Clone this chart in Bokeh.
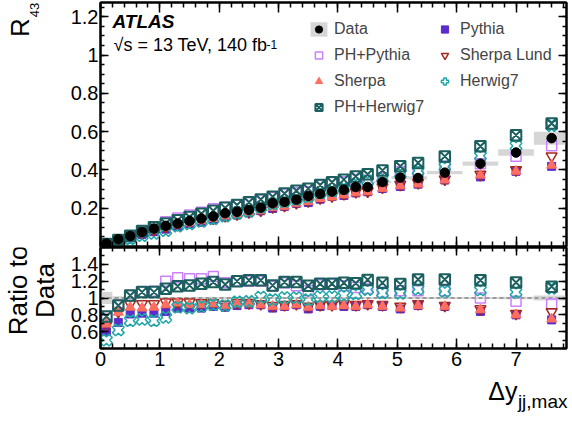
import numpy as np
from bokeh.plotting import figure
from bokeh.models import (Range1d, LinearAxis, FixedTicker, Label, Legend,
                          LegendItem, Span)
from bokeh.layouts import column, row
from bokeh.embed import file_html
from bokeh.resources import INLINE

FONT = "Liberation Sans"

# ---------------- data ----------------
bin_edges = [0.0, 0.2, 0.4, 0.6, 0.8, 1.0, 1.2, 1.4, 1.6, 1.8, 2.0, 2.2, 2.4,
             2.6, 2.8, 3.0, 3.2, 3.4, 3.6, 3.8, 4.0, 4.2, 4.4, 4.6, 4.9, 5.2,
             5.5, 6.1, 6.7, 7.3, 7.9]

data_r43 = [0.016, 0.038, 0.055, 0.076, 0.094, 0.108, 0.120, 0.134, 0.146,
            0.157, 0.174, 0.181, 0.191, 0.203, 0.226, 0.233, 0.245, 0.264,
            0.275, 0.287, 0.296, 0.311, 0.311, 0.337, 0.360, 0.358, 0.386,
            0.433, 0.491, 0.566]

# half-height of the grey data-uncertainty band (upper panel, absolute)
data_unc = [0.002, 0.003, 0.003, 0.004, 0.004, 0.004, 0.004, 0.004, 0.005,
            0.005, 0.005, 0.005, 0.005, 0.005, 0.005, 0.005, 0.005, 0.005,
            0.005, 0.005, 0.006, 0.006, 0.006, 0.007, 0.009, 0.009, 0.009,
            0.011, 0.017, 0.034]

# half-height of the grey band in the ratio panel
ratio_unc = [0.07, 0.02, 0.015, 0.012, 0.012, 0.012, 0.012, 0.012, 0.012,
             0.012, 0.012, 0.012, 0.012, 0.012, 0.012, 0.012, 0.012, 0.012,
             0.012, 0.012, 0.012, 0.012, 0.012, 0.012, 0.012, 0.012, 0.013,
             0.013, 0.015, 0.03]

ratio_pythia = [0.60, 0.71, 0.81, 0.82, 0.82, 0.84, 0.88, 0.88, 0.88, 0.90,
                0.89, 0.91, 0.92, 0.92, 0.88, 0.90, 0.92, 0.87, 0.90, 0.91,
                0.90, 0.90, 0.92, 0.90, 0.87, 0.91, 0.90, 0.84, 0.80, 0.74]

ratio_ph_pythia = [0.78, 0.91, 1.03, 1.07, 1.08, 1.20, 1.24, 1.23, 1.23, 1.255,
                   1.18, 1.20, 1.20, 1.20, 1.14, 1.18, 1.145, 1.086, 1.157,
                   1.165, 1.145, 1.125, 1.114, 1.067, 1.086, 1.086, 1.086,
                   1.00, 0.96, 0.93]

ratio_sherpa_lund = [0.68, 0.84, 0.93, 0.93, 0.93, 0.95, 0.95, 0.95, 0.94,
                     0.94, 0.92, 0.94, 0.94, 0.93, 0.91, 0.92, 0.93, 0.90,
                     0.92, 0.92, 0.93, 0.92, 0.93, 0.92, 0.90, 0.93, 0.91,
                     0.87, 0.815, 0.835]

ratio_sherpa = [0.69, 0.83, 0.89, 0.88, 0.89, 0.92, 0.94, 0.92, 0.92, 0.93,
                0.91, 0.93, 0.93, 0.92, 0.90, 0.90, 0.92, 0.89, 0.91, 0.90,
                0.91, 0.90, 0.92, 0.90, 0.88, 0.91, 0.90, 0.86, 0.80, 0.75]

ratio_herwig7 = [0.50, 0.62, 0.73, 0.745, 0.73, 0.77, 0.89, 0.88, 0.90, 0.92,
                 0.91, 0.955, 0.96, 1.01, 0.98, 1.005, 1.005, 0.98, 1.017,
                 1.017, 1.03, 1.05, 1.10, 1.06, 1.055, 1.105, 1.078, 1.095,
                 1.07, 1.115]

ratio_ph_herwig7 = [0.78, 0.91, 1.03, 1.07, 1.07, 1.11, 1.14, 1.15, 1.17,
                    1.19, 1.16, 1.20, 1.21, 1.21, 1.15, 1.19, 1.19, 1.145,
                    1.17, 1.17, 1.18, 1.175, 1.215, 1.18, 1.165, 1.22, 1.22,
                    1.21, 1.185, 1.135]

x_ticks = [0, 1, 2, 3, 4, 5, 6, 7]
x_minor = [0.2 * i for i in range(40)]
top_ticks = [0.2, 0.4, 0.6, 0.8, 1.0, 1.2]
top_minor = [0.05 * i for i in range(26)]
bot_ticks = [0.6, 0.8, 1.0, 1.2, 1.4]
bot_minor = [0.4 + 0.1 * i for i in range(13)]

# ---------------- derived ----------------
lo = np.array(bin_edges[:-1])
hi = np.array(bin_edges[1:])
xc = 0.5 * (lo + hi)
data = np.array(data_r43)
unc = np.array(data_unc)
runc = np.array(ratio_unc)

C_PYTHIA = "#5a2ccb"
C_PHPY = "#cc80ff"
C_LUND = "#a3291f"
C_SHERPA = "#ff6e60"
C_HW = "#20a6a6"
C_PHHW = "#1b5f5f"
C_BAND = "#d6d6d6"

series = [
    ("PH+Pythia", ratio_ph_pythia, dict(marker="square", size=10, fill_color=None, line_color=C_PHPY, line_width=1.5)),
    ("Pythia", ratio_pythia, dict(marker="square", size=8, fill_color=C_PYTHIA, line_color=C_PYTHIA)),
    ("Sherpa Lund", ratio_sherpa_lund, dict(marker="inverted_triangle", size=11, fill_color=None, line_color=C_LUND, line_width=1.5)),
    ("Sherpa", ratio_sherpa, dict(marker="triangle", size=10, fill_color=C_SHERPA, line_color=C_SHERPA)),
    ("Herwig7", ratio_herwig7, dict(marker="plus", size=12, angle=np.pi / 4, fill_color=None, line_color=C_HW, line_width=1.5)),
    ("PH+Herwig7", ratio_ph_herwig7, dict(marker="square_x", size=10.5, fill_color=None, line_color=C_PHHW, line_width=2)),
]

x_range = Range1d(0, 7.85)

LAB_W = 67     # width of the strip that holds the rotated axis titles
MAIN_W = 501   # width of each panel figure
TOP_H = 247
BOT_H = 127
FOOT_H = 49


def style_axis(ax, ticks, minor, tin, tmin, labels, overrides=None, standoff=2):
    ax.ticker = FixedTicker(ticks=ticks, minor_ticks=minor)
    ax.major_tick_in = tin
    ax.major_tick_out = 0
    ax.minor_tick_in = tmin
    ax.minor_tick_out = 0
    ax.axis_line_width = 2
    ax.axis_line_color = "black"
    ax.major_tick_line_width = 1.5
    ax.minor_tick_line_width = 1.5
    ax.major_tick_line_color = "black"
    ax.minor_tick_line_color = "black"
    if labels:
        ax.major_label_text_font = FONT
        ax.major_label_text_font_size = "20px"
        ax.major_label_text_color = "black"
        ax.major_label_standoff = standoff
        if overrides:
            ax.major_label_overrides = overrides
    else:
        ax.major_label_text_font_size = "1px"
        ax.major_label_text_alpha = 0
        ax.major_label_standoff = 0


def make_fig(yr, h, mbt, mbb):
    p = figure(width=MAIN_W, height=h, x_range=x_range, y_range=yr,
               output_backend="svg", toolbar_location=None,
               min_border_left=32, min_border_right=2, min_border_top=mbt,
               min_border_bottom=mbb)
    p.xgrid.visible = False
    p.ygrid.visible = False
    p.outline_line_color = "black"
    p.outline_line_width = 2
    p.background_fill_color = "white"
    p.border_fill_color = "white"
    return p


def blank(w, h):
    f = figure(width=w, height=h, x_range=Range1d(0, w), y_range=Range1d(0, h),
               output_backend="svg", toolbar_location=None, min_border=0,
               x_axis_location=None, y_axis_location=None)
    f.xgrid.visible = False
    f.ygrid.visible = False
    f.outline_line_color = None
    return f


# ---------------- upper panel ----------------
p1 = make_fig(Range1d(0, 1.275), TOP_H, 2, 1)
style_axis(p1.xaxis[0], x_ticks, x_minor, 10, 5, False)
style_axis(p1.yaxis[0], top_ticks, top_minor, 8, 4, True, {1.0: "1"})
ax_t = LinearAxis()
style_axis(ax_t, x_ticks, x_minor, 10, 5, False)
p1.add_layout(ax_t, "above")
ax_r = LinearAxis()
style_axis(ax_r, top_ticks, top_minor, 8, 4, False)
p1.add_layout(ax_r, "right")

band1 = p1.quad(left=lo, right=hi, bottom=data - unc, top=data + unc,
                fill_color=C_BAND, line_color=None)
rend = {}
for name, r, kw in series:
    rend[name] = p1.scatter(xc, data * np.array(r), **kw)
data_r = p1.scatter(xc, data, marker="circle", size=9.5, fill_color="black",
                    line_color="black")

order = [("Data", [band1, data_r]), ("Pythia", [rend["Pythia"]]),
         ("PH+Pythia", [rend["PH+Pythia"]]), ("Sherpa Lund", [rend["Sherpa Lund"]]),
         ("Sherpa", [rend["Sherpa"]]), ("Herwig7", [rend["Herwig7"]]),
         ("PH+Herwig7", [rend["PH+Herwig7"]])]
legend = Legend(items=[LegendItem(label=n, renderers=r) for n, r in order],
                orientation="horizontal", ncols=2, location=(208, 129),
                border_line_color=None, background_fill_alpha=0,
                label_text_font=FONT, label_text_font_size="16px",
                glyph_width=21, glyph_height=18, label_height=20,
                label_width=94, label_standoff=5, spacing=6, padding=0,
                margin=0)
p1.add_layout(legend)

p1.add_layout(Label(x=12, y=215, x_units="screen", y_units="screen",
                    text="ATLAS", text_font=FONT, text_font_size="19px",
                    text_font_style="bold italic", text_color="black"))
p1.add_layout(Label(x=13, y=192, x_units="screen", y_units="screen",
                    text="\u221as = 13 TeV, 140 fb", text_font=FONT,
                    text_font_size="18px", text_color="black"))
p1.add_layout(Label(x=166, y=198, x_units="screen", y_units="screen",
                    text="-1", text_font=FONT, text_font_size="12px",
                    text_color="black"))

# ---------------- ratio panel ----------------
p2 = make_fig(Range1d(0.4, 1.6), BOT_H, 0, 26)
style_axis(p2.xaxis[0], x_ticks, x_minor, 10, 5, True, standoff=3)
style_axis(p2.yaxis[0], bot_ticks, bot_minor, 8, 4, True, {1.0: "1"})
ax_t2 = LinearAxis()
style_axis(ax_t2, x_ticks, x_minor, 8, 4, False)
p2.add_layout(ax_t2, "above")
ax_r2 = LinearAxis()
style_axis(ax_r2, bot_ticks, bot_minor, 8, 4, False)
p2.add_layout(ax_r2, "right")

p2.quad(left=lo, right=hi, bottom=1 - runc, top=1 + runc,
        fill_color=C_BAND, line_color=None, level="underlay")
p2.add_layout(Span(location=1.0, dimension="width", line_color="#9b9b9b",
                   line_width=2, line_dash="4 3", level="underlay"))
for name, r, kw in series:
    p2.scatter(xc, np.array(r), **kw)

# ---------------- axis-title strips ----------------
lab1 = blank(LAB_W, TOP_H)
lab1.add_layout(Label(x=34, y=212, text="R", angle=np.pi / 2,
                      text_font=FONT, text_font_size="26px", text_color="black"))
lab1.add_layout(Label(x=38, y=232, text="43", angle=np.pi / 2,
                      text_font=FONT, text_font_size="13px", text_color="black"))

lab2 = blank(LAB_W, BOT_H)
lab2.add_layout(Label(x=32, y=73, text="Ratio to", angle=np.pi / 2,
                      text_align="center", text_font=FONT,
                      text_font_size="26px", text_color="black"))
lab2.add_layout(Label(x=59, y=73, text="Data", angle=np.pi / 2,
                      text_align="center", text_font=FONT,
                      text_font_size="26px", text_color="black"))

foot = blank(LAB_W + MAIN_W, FOOT_H)
foot.add_layout(Label(x=567, y=12, text="jj,max", text_align="right",
                      text_font=FONT, text_font_size="19px", text_color="black"))
foot.add_layout(Label(x=517, y=19, text="\u0394y", text_align="right",
                      text_font=FONT, text_font_size="25px", text_color="black"))

layout = column(row(lab1, p1, spacing=0), row(lab2, p2, spacing=0), foot,
                spacing=0)
open("out.html", "w").write(file_html(layout, INLINE))
